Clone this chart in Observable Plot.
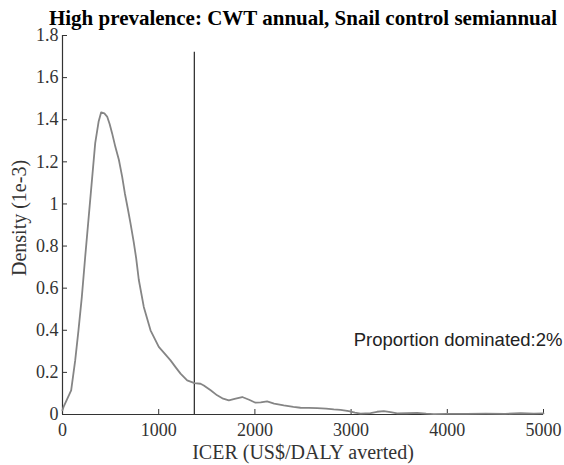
<!DOCTYPE html>
<html>
<head>
<meta charset="utf-8">
<script src="https://cdn.jsdelivr.net/npm/d3@7"></script>
<script src="https://cdn.jsdelivr.net/npm/@observablehq/plot@0.6"></script>
<style>
  html, body { margin: 0; padding: 0; background: #fff; }
  #chart svg { display: block; }
</style>
</head>
<body>
<div id="chart"></div>
<script>
const titleText = "High prevalence: CWT annual, Snail control semiannual";
const xLabel = "ICER (US$/DALY averted)";
const yLabel = "Density (1e-3)";
const noteText = "Proportion dominated:2%";

const icer = [0, 10, 90, 132, 166, 201, 236, 288, 340, 375, 402, 435, 464, 490, 516, 550, 586, 620, 648, 680, 707, 740, 766, 793, 845, 915, 1001, 1060, 1123, 1175, 1227, 1296, 1372, 1435, 1469, 1540, 1608, 1670, 1729, 1800, 1868, 1940, 2006, 2060, 2127, 2200, 2300, 2400, 2474, 2560, 2647, 2740, 2820, 2890, 2976, 3040, 3098, 3202, 3270, 3340, 3410, 3479, 3580, 3687, 3780, 3860, 4000, 4200, 4400, 4600, 4761, 4900, 5000];
const density = [0.02, 0.035, 0.115, 0.257, 0.40, 0.559, 0.749, 1.019, 1.289, 1.39, 1.435, 1.43, 1.415, 1.38, 1.335, 1.27, 1.21, 1.13, 1.051, 0.975, 0.908, 0.82, 0.742, 0.64, 0.511, 0.40, 0.321, 0.29, 0.257, 0.225, 0.194, 0.162, 0.149, 0.146, 0.138, 0.115, 0.091, 0.075, 0.067, 0.075, 0.083, 0.07, 0.056, 0.058, 0.062, 0.052, 0.043, 0.036, 0.032, 0.031, 0.030, 0.028, 0.024, 0.022, 0.016, 0.009, 0.004, 0.007, 0.013, 0.016, 0.011, 0.005, 0.006, 0.008, 0.004, 0.002, 0.003, 0.003, 0.004, 0.003, 0.006, 0.004, 0.005];

const xTicks = [0, 1000, 2000, 3000, 4000, 5000];
const yTicks = [0, 0.2, 0.4, 0.6, 0.8, 1, 1.2, 1.4, 1.6, 1.8];
const thresholdIcer = [1370];
const thresholdTop = 1.72;

const data = icer.map((x, i) => ({x, y: density[i]}));
const serif = "'Liberation Serif', 'Times New Roman', serif";
const axisColor = "#333";

const chart = Plot.plot({
  width: 564,
  height: 465,
  marginLeft: 62,
  marginRight: 21,
  marginTop: 35,
  marginBottom: 51,
  style: {fontFamily: serif, fontSize: "18px", background: "#fff", color: axisColor},
  x: {domain: [0, 5000]},
  y: {domain: [0, 1.8]},
  marks: [
    Plot.axisX(xTicks, {tickSize: -5, tickPadding: 14, tickFormat: d => String(d), fontSize: 18, stroke: axisColor, fill: axisColor, label: null}),
    Plot.axisY(yTicks, {tickSize: -5, tickPadding: 9, tickFormat: d => String(+d.toFixed(1)), fontSize: 18, stroke: axisColor, fill: axisColor, label: null}),
    Plot.ruleY([0], {stroke: axisColor, strokeWidth: 1.2}),
    Plot.ruleX([0], {stroke: axisColor, strokeWidth: 1.2}),
    Plot.ruleX(thresholdIcer, {y1: 0, y2: thresholdTop, stroke: "#111", strokeWidth: 1.1}),
    Plot.line(data, {x: "x", y: "y", stroke: "#858585", strokeWidth: 1.8}),
    Plot.text([titleText], {frameAnchor: "top", dy: -11, fontWeight: "bold", fontSize: 21, fill: "#000", lineAnchor: "bottom", textAnchor: "middle"}),
    Plot.text([xLabel], {frameAnchor: "bottom", dy: 44, lineAnchor: "bottom", textAnchor: "middle", fontSize: 20, fill: axisColor}),
    Plot.text([yLabel], {frameAnchor: "left", rotate: -90, dx: -43, dy: -7, lineAnchor: "middle", textAnchor: "middle", fontSize: 20, fill: axisColor}),
    Plot.text([noteText], {frameAnchor: "bottom-right", dx: 19, dy: -74, textAnchor: "end", lineAnchor: "middle", fontSize: 18.5, fill: "#222", fontFamily: "'Liberation Sans', Arial, sans-serif"})
  ]
});
document.getElementById("chart").appendChild(chart);
</script>
</body>
</html>
